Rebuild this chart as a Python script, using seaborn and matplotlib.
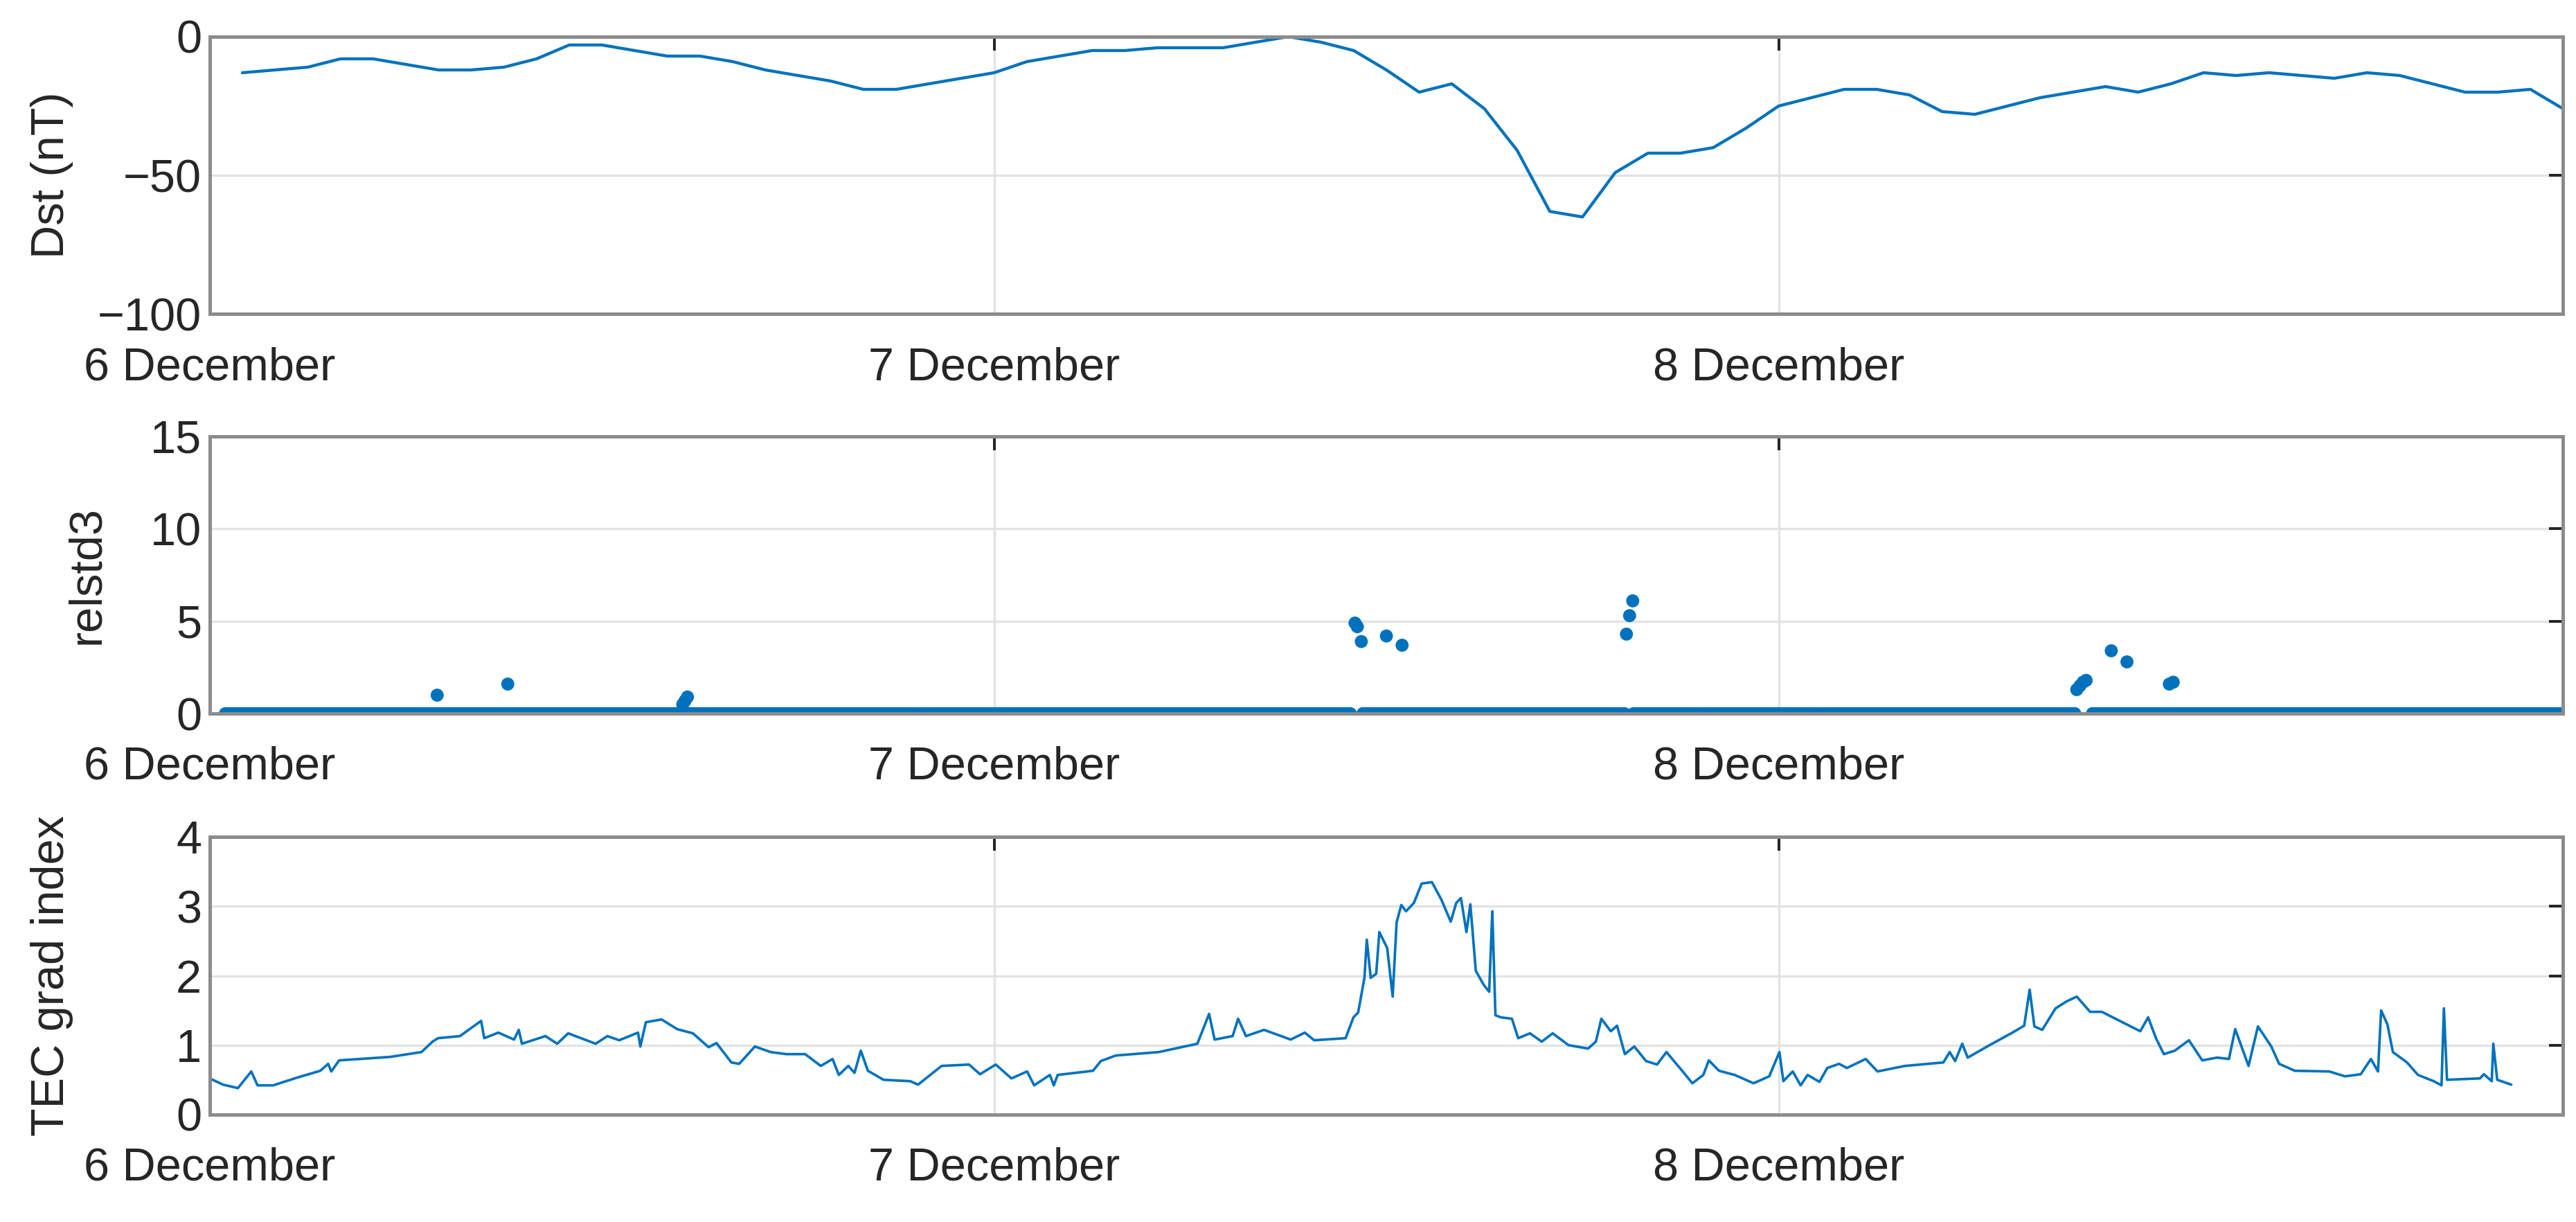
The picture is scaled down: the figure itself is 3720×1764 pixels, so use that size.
import numpy as np
import pandas as pd
import seaborn as sns
import matplotlib.pyplot as plt

# --- data (time in days since 6 December 00:00) ---
dst_hours = np.arange(1, 73)
dst_values = [-13, -12, -11, -8, -8, -10, -12, -12, -11, -8, -3, -3, -5, -7, -7, -9,
              -12, -14, -16, -19, -19, -17, -15, -13, -9, -7, -5, -5, -4, -4, -4, -2,
              0, -2, -5, -12, -20, -17, -26, -41, -63, -65, -49, -42, -42, -40, -33, -25,
              -22, -19, -19, -21, -27, -28, -25, -22, -20, -18, -20, -17, -13, -14, -13, -14,
              -15, -13, -14, -17, -20, -20, -19, -26]

# relstd3: quiet-time zero runs (start, end) at 5 min cadence, plus non-zero samples
zero_runs = [(0.02, 1.455), (1.47, 1.805), (1.815, 2.378), (2.40, 3.0)]
cadence = 1 / 288
rel_t = [0.29, 0.38, 0.603, 0.606, 0.609, 1.460, 1.463, 1.468, 1.500, 1.520,
         1.806, 1.810, 1.814, 2.380, 2.384, 2.388, 2.392, 2.424, 2.444, 2.498, 2.503]
rel_v = [1.0, 1.6, 0.5, 0.7, 0.9, 4.9, 4.7, 3.9, 4.2, 3.7,
         4.3, 5.3, 6.1, 1.3, 1.5, 1.7, 1.8, 3.4, 2.8, 1.6, 1.7]

tec_t = [0.000, 0.017, 0.036, 0.053, 0.061, 0.081, 0.111, 0.141, 0.151, 0.155, 0.165, 0.230,
         0.270, 0.284, 0.291, 0.319, 0.346, 0.350, 0.368, 0.388, 0.394, 0.398, 0.428, 0.443,
         0.457, 0.492, 0.507, 0.522, 0.546, 0.549, 0.556, 0.576, 0.596, 0.616, 0.636, 0.646,
         0.665, 0.675, 0.695, 0.715, 0.735, 0.759, 0.779, 0.794, 0.802, 0.814, 0.822, 0.830,
         0.839, 0.859, 0.893, 0.903, 0.933, 0.968, 0.982, 1.002, 1.022, 1.042, 1.051, 1.071,
         1.076, 1.081, 1.126, 1.136, 1.155, 1.210, 1.259, 1.274, 1.281, 1.304, 1.311, 1.321,
         1.344, 1.378, 1.396, 1.408, 1.448, 1.458, 1.464, 1.472, 1.475, 1.480, 1.487, 1.491,
         1.501, 1.508, 1.513, 1.519, 1.525, 1.535, 1.545, 1.558, 1.570, 1.582, 1.589, 1.595,
         1.602, 1.607, 1.614, 1.624, 1.631, 1.635, 1.639, 1.646, 1.660, 1.668, 1.683, 1.698,
         1.712, 1.732, 1.757, 1.767, 1.774, 1.786, 1.794, 1.804, 1.816, 1.831, 1.845, 1.857,
         1.877, 1.890, 1.904, 1.911, 1.924, 1.944, 1.968, 1.988, 2.001, 2.006, 2.018, 2.028,
         2.037, 2.052, 2.062, 2.077, 2.087, 2.111, 2.126, 2.161, 2.210, 2.218, 2.225, 2.234,
         2.241, 2.269, 2.298, 2.313, 2.320, 2.326, 2.336, 2.353, 2.367, 2.380, 2.397, 2.412,
         2.426, 2.461, 2.471, 2.481, 2.491, 2.505, 2.523, 2.540, 2.559, 2.574, 2.582, 2.599,
         2.611, 2.628, 2.638, 2.658, 2.702, 2.722, 2.742, 2.755, 2.764, 2.768, 2.776, 2.783,
         2.801, 2.815, 2.835, 2.845, 2.848, 2.852, 2.894, 2.899, 2.909, 2.911, 2.916, 2.934]
tec_v = [0.52, 0.43, 0.38, 0.62, 0.42, 0.42, 0.53, 0.63, 0.73, 0.62, 0.78, 0.83,
         0.90, 1.05, 1.10, 1.13, 1.35, 1.10, 1.18, 1.08, 1.22, 1.02, 1.13, 1.02,
         1.17, 1.02, 1.13, 1.07, 1.18, 0.98, 1.33, 1.37, 1.23, 1.17, 0.97, 1.03,
         0.75, 0.73, 0.98, 0.90, 0.87, 0.87, 0.70, 0.80, 0.57, 0.70, 0.60, 0.92,
         0.63, 0.50, 0.48, 0.43, 0.70, 0.72, 0.58, 0.72, 0.52, 0.62, 0.42, 0.57,
         0.42, 0.57, 0.63, 0.77, 0.85, 0.90, 1.02, 1.45, 1.08, 1.13, 1.38, 1.13,
         1.22, 1.08, 1.18, 1.07, 1.10, 1.40, 1.47, 1.97, 2.52, 1.97, 2.03, 2.63,
         2.40, 1.70, 2.77, 3.02, 2.93, 3.05, 3.33, 3.35, 3.10, 2.78, 3.05, 3.12,
         2.63, 3.03, 2.07, 1.87, 1.77, 2.93, 1.43, 1.40, 1.38, 1.10, 1.17, 1.05,
         1.17, 1.00, 0.95, 1.05, 1.38, 1.20, 1.28, 0.87, 0.98, 0.77, 0.72, 0.90,
         0.63, 0.45, 0.57, 0.78, 0.63, 0.57, 0.45, 0.55, 0.90, 0.48, 0.62, 0.42,
         0.57, 0.47, 0.67, 0.73, 0.67, 0.80, 0.62, 0.70, 0.75, 0.90, 0.77, 1.02,
         0.82, 1.00, 1.18, 1.28, 1.80, 1.27, 1.22, 1.53, 1.63, 1.70, 1.48, 1.48,
         1.40, 1.20, 1.40, 1.10, 0.87, 0.92, 1.07, 0.78, 0.82, 0.80, 1.23, 0.70,
         1.27, 0.98, 0.73, 0.63, 0.62, 0.55, 0.58, 0.80, 0.62, 1.50, 1.30, 0.90,
         0.75, 0.57, 0.48, 0.42, 1.53, 0.50, 0.52, 0.58, 0.48, 1.02, 0.50, 0.43]

day_ticks = [0, 1, 2]
day_labels = ['6 December', '7 December', '8 December']

# --- build frames ---
dst = pd.DataFrame({'t': dst_hours / 24, 'Dst': dst_values})
zero_t = np.concatenate([np.arange(a, b, cadence) for a, b in zero_runs])
rel = pd.DataFrame({'t': np.concatenate([zero_t, rel_t]),
                    'relstd3': np.concatenate([np.zeros(len(zero_t)), rel_v])})
tec = pd.DataFrame({'t': tec_t, 'tec': tec_v})

sns.set_style('white')
plt.rcParams['font.family'] = ['Liberation Sans', 'DejaVu Sans']
blue = '#0072BD'

fig = plt.figure(figsize=(15.5, 7.35), dpi=240)
rects = [[0.0814, 0.743, 0.9136, 0.227],
         [0.0814, 0.416, 0.9136, 0.227],
         [0.0814, 0.088, 0.9136, 0.227]]
axes = [fig.add_axes(r) for r in rects]

sns.lineplot(data=dst, x='t', y='Dst', ax=axes[0], color=blue, linewidth=1.3)
sns.scatterplot(data=rel, x='t', y='relstd3', ax=axes[1], color=blue, s=32,
                edgecolor='none', linewidth=0)
sns.lineplot(data=tec, x='t', y='tec', ax=axes[2], color=blue, linewidth=1.1)

settings = [((-100, 0), [-100, -50, 0], 'Dst (nT)', -0.058),
            ((0, 15), [0, 5, 10, 15], 'relstd3', -0.043),
            ((0, 4), [0, 1, 2, 3, 4], 'TEC grad index', -0.058)]
for ax, (ylim, yt, lab, lx) in zip(axes, settings):
    ax.set_xlim(0, 3)
    ax.set_ylim(*ylim)
    ax.set_yticks(yt)
    ax.set_xticks(day_ticks)
    ax.set_xticklabels(day_labels)
    ax.set_xlabel('')
    ax.set_ylabel(lab, fontsize=20, color='#262626')
    ax.yaxis.set_label_coords(lx, 0.5)
    ax.grid(True, color='#e3e3e3', linewidth=1.0)
    ax.set_axisbelow(True)
    ax.tick_params(direction='in', length=6, width=1.2, colors='#262626',
                   labelsize=20, top=True, right=True)
    ax.tick_params(axis='x', pad=14)
    for s in ax.spines.values():
        s.set_color('#8c8c8c')
        s.set_linewidth(1.5)

fig.savefig('out.png', dpi=240)
